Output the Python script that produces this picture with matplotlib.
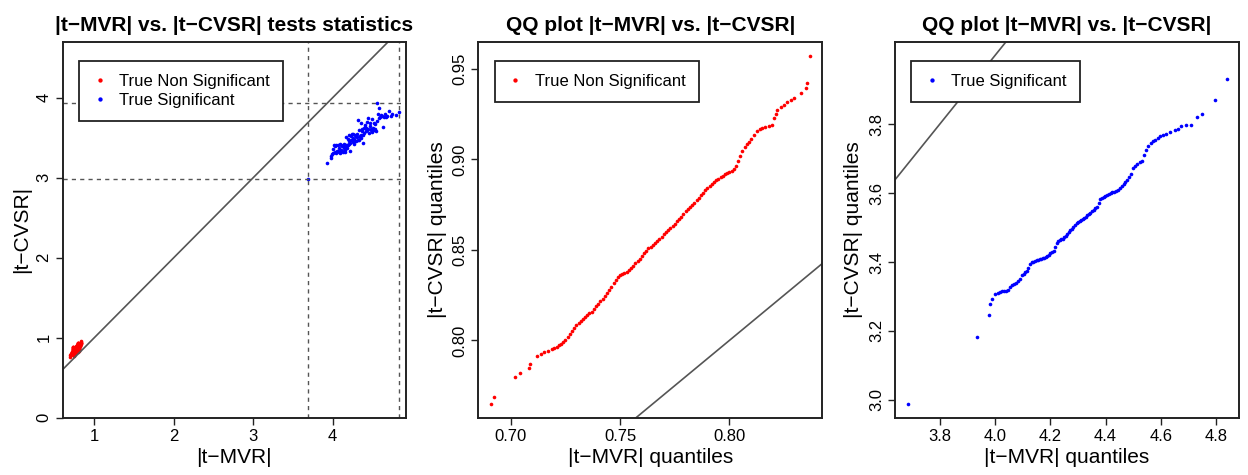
import numpy as np
import matplotlib
matplotlib.use("Agg")
import matplotlib.pyplot as plt

plt.rcParams['font.family'] = ['Liberation Sans', 'DejaVu Sans']

# |t-MVR| and |t-CVSR| statistics, truly non significant genes
red_mvr = [0.6910, 0.739, 0.6925, 0.740, 0.7020, 0.741, 0.7043, 0.742, 0.7085, 0.743,
           0.7090, 0.744, 0.7120, 0.745, 0.7140, 0.746, 0.7152, 0.747, 0.7170, 0.748,
           0.719, 0.749, 0.720, 0.750, 0.721, 0.751, 0.722, 0.752, 0.723, 0.753,
           0.724, 0.769, 0.754, 0.799, 0.725, 0.770, 0.755, 0.800,
           0.726, 0.771, 0.756, 0.801, 0.727, 0.772, 0.757, 0.802,
           0.728, 0.773, 0.758, 0.803, 0.729, 0.774, 0.759, 0.804,
           0.730, 0.775, 0.760, 0.805, 0.731, 0.776, 0.761, 0.806,
           0.732, 0.777, 0.762, 0.807, 0.733, 0.778, 0.763, 0.808,
           0.734, 0.779, 0.764, 0.809, 0.735, 0.780, 0.765, 0.810,
           0.736, 0.781, 0.766, 0.8115, 0.737, 0.782, 0.767, 0.8128,
           0.738, 0.783, 0.768, 0.8140,
           0.784, 0.8151, 0.785, 0.8165, 0.786, 0.8180, 0.787, 0.8197, 0.788, 0.8204,
           0.789, 0.8212, 0.790, 0.8220, 0.791, 0.8235, 0.792, 0.8250, 0.793, 0.8265,
           0.794, 0.8280, 0.795, 0.8296, 0.796, 0.8330, 0.797, 0.8350, 0.798, 0.8357,
           0.8367]
red_cvsr = [0.765, 0.769, 0.780, 0.7818, 0.785, 0.787, 0.7916, 0.7925, 0.7934, 0.7943,
            0.7952, 0.7959, 0.7966, 0.7974, 0.7981, 0.7993, 0.8005, 0.8020, 0.8037, 0.8053,
            0.8068, 0.8083, 0.8096, 0.8108, 0.8121, 0.8131, 0.8140, 0.8149, 0.8160, 0.8174,
            0.8188, 0.8202, 0.8216, 0.8231, 0.8246, 0.8262, 0.8279, 0.8297, 0.8315, 0.8332,
            0.8349, 0.8360, 0.8367, 0.8374, 0.8381, 0.8390, 0.8402, 0.8414, 0.8428, 0.8440,
            0.8452, 0.8466, 0.8481, 0.8496, 0.8509, 0.8519, 0.8529, 0.8540, 0.8550, 0.8562,
            0.8574, 0.8586, 0.8598, 0.8610, 0.8622, 0.8634, 0.8646, 0.8658, 0.8671, 0.8685,
            0.8699, 0.8713, 0.8726, 0.8738, 0.8750, 0.8762, 0.8774, 0.8788, 0.8803, 0.8817,
            0.8832, 0.8845, 0.8855, 0.8865, 0.8875, 0.8885, 0.8894, 0.8902, 0.8910, 0.8918,
            0.8926, 0.8932, 0.8938, 0.8945, 0.8966, 0.8990, 0.9017, 0.9045, 0.9069, 0.9084,
            0.9099, 0.9113, 0.9136, 0.9156, 0.9166, 0.9175, 0.9180, 0.9186, 0.9193, 0.9230,
            0.9250, 0.9276, 0.9290, 0.9303, 0.9315, 0.9328, 0.9340, 0.9370, 0.9395, 0.9423,
            0.9574]

# |t-MVR| and |t-CVSR| statistics, truly significant genes
blue_mvr = [3.685, 3.935, 3.979, 3.983, 3.989,
            4.002, 4.010, 4.018, 4.026, 4.033, 4.041, 4.048, 4.056, 4.063, 4.070,
            4.078, 4.085, 4.091, 4.098, 4.104, 4.110, 4.116, 4.121, 4.127, 4.133,
            4.139, 4.145, 4.151, 4.156, 4.162, 4.168, 4.173, 4.179, 4.185, 4.190,
            4.196, 4.201, 4.207, 4.212, 4.218, 4.223, 4.229, 4.234, 4.240, 4.245,
            4.251, 4.256, 4.262, 4.267, 4.273, 4.278, 4.284, 4.289, 4.295, 4.300,
            4.306, 4.311, 4.317, 4.322, 4.328, 4.334, 4.339, 4.345, 4.351, 4.357,
            4.363, 4.369, 4.375, 4.381, 4.387, 4.393, 4.399, 4.405, 4.412, 4.418,
            4.424, 4.431, 4.437, 4.444, 4.451, 4.458, 4.465, 4.472, 4.479, 4.486,
            4.493, 4.500, 4.507, 4.515, 4.523, 4.531, 4.539, 4.547, 4.555, 4.563,
            4.571, 4.580, 4.589, 4.598, 4.607, 4.617,
            4.632, 4.650, 4.662, 4.673, 4.690, 4.707, 4.731, 4.749, 4.795, 4.837]
blue_cvsr = [2.988, 3.183, 3.246, 3.277, 3.293,
             3.361, 3.308, 3.409, 3.320, 3.395, 3.313, 3.404, 3.338, 3.336, 3.412,
             3.316, 3.370, 3.418, 3.311, 3.352, 3.407, 3.328, 3.399, 3.401, 3.316,
             3.375, 3.416, 3.316, 3.345, 3.408, 3.513, 3.384, 3.406, 3.366, 3.411,
             3.487, 3.421, 3.536, 3.462, 3.334, 3.429, 3.523, 3.472, 3.468, 3.542,
             3.445, 3.497, 3.551, 3.425, 3.482, 3.529, 3.464, 3.517, 3.520, 3.456,
             3.503, 3.547, 3.726, 3.476, 3.601, 3.466, 3.508, 3.526, 3.492, 3.539,
             3.680, 3.589, 3.603, 3.532, 3.433, 3.616, 3.560, 3.639, 3.657, 3.582,
             3.626, 3.694, 3.596, 3.607, 3.746, 3.556, 3.646, 3.685, 3.592, 3.605,
             3.736, 3.571, 3.621, 3.690, 3.598, 3.610, 3.672, 3.585, 3.932, 3.711,
             3.798, 3.751, 3.870, 3.765, 3.783, 3.772,
             3.633, 3.761, 3.796, 3.755, 3.777, 3.831, 3.768, 3.799, 3.788, 3.822]

lab_nonsig = 'True Non Significant'
lab_sig = 'True Significant'

RED = '#ff0000'
BLUE = '#0000ff'
MS = 2.6


def style_axes(ax):
    for s in ax.spines.values():
        s.set_linewidth(1.4)
        s.set_color('#222222')
    ax.tick_params(direction='out', length=5, width=1, labelsize=12, pad=3,
                   color='#222222')
    ax.tick_params(axis='y', labelrotation=90)
    for lbl in ax.get_yticklabels():
        lbl.set_verticalalignment('center')


def add_legend(ax):
    leg = ax.legend(loc='upper left', bbox_to_anchor=(0.047, 0.95), borderaxespad=0,
                    fancybox=False, edgecolor='#222222', framealpha=1, fontsize=12,
                    handlelength=0.9, handletextpad=0.7, borderpad=0.8,
                    labelspacing=0.25, markerscale=1.2)
    leg.get_frame().set_linewidth(1.3)


fig = plt.figure(figsize=(12.48, 4.75), dpi=100)
ax1 = fig.add_axes([0.0502, 0.1206, 0.2751, 0.7916])
ax2 = fig.add_axes([0.3833, 0.1206, 0.2756, 0.7916])
ax3 = fig.add_axes([0.7171, 0.1206, 0.2759, 0.7916])

# scatter of the two statistics
ax1.plot(red_mvr, red_cvsr, 'o', color=RED, ms=MS, mew=0, label=lab_nonsig)
ax1.plot(blue_mvr, blue_cvsr, 'o', color=BLUE, ms=MS, mew=0, label=lab_sig)
ax1.axline((0, 0), slope=1, color='#555555', lw=1.2)
for v in (min(blue_mvr), max(blue_mvr)):
    ax1.axvline(v, color='#555555', lw=1, ls=(0, (3, 3)))
for h in (min(blue_cvsr), max(blue_cvsr)):
    ax1.axhline(h, color='#555555', lw=1, ls=(0, (3, 3)))
ax1.set_xlim(0.602, 4.923)
ax1.set_ylim(0, 4.70)
ax1.set_xticks([1, 2, 3, 4])
ax1.set_yticks([0, 1, 2, 3, 4])
ax1.set_title('|t\u2212MVR| vs. |t\u2212CVSR| tests statistics', fontsize=15,
              fontweight='bold', pad=8)
ax1.set_xlabel('|t\u2212MVR|', fontsize=15, labelpad=3)
ax1.set_ylabel('|t\u2212CVSR|', fontsize=15, labelpad=4)
style_axes(ax1)
add_legend(ax1)

# QQ plot, non significant
ax2.plot(np.sort(red_mvr), np.sort(red_cvsr), 'o', color=RED, ms=MS, mew=0,
         label=lab_nonsig)
ax2.margins(0.04)
ax2.axline((0.8, 0.8), slope=1, color='#555555', lw=1.2)
ax2.set_xticks([0.70, 0.75, 0.80])
ax2.set_xticklabels(['0.70', '0.75', '0.80'])
ax2.set_yticks([0.80, 0.85, 0.90, 0.95])
ax2.set_yticklabels(['0.80', '0.85', '0.90', '0.95'])
ax2.set_title('QQ plot |t\u2212MVR| vs. |t\u2212CVSR|', fontsize=15,
              fontweight='bold', pad=8)
ax2.set_xlabel('|t\u2212MVR| quantiles', fontsize=15, labelpad=3)
ax2.set_ylabel('|t\u2212CVSR| quantiles', fontsize=15, labelpad=4)
style_axes(ax2)
add_legend(ax2)

# QQ plot, significant
ax3.plot(np.sort(blue_mvr), np.sort(blue_cvsr), 'o', color=BLUE, ms=MS, mew=0,
         label=lab_sig)
ax3.margins(0.04)
ax3.axline((4, 4), slope=1, color='#555555', lw=1.2)
ax3.set_xticks([3.8, 4.0, 4.2, 4.4, 4.6, 4.8])
ax3.set_xticklabels(['3.8', '4.0', '4.2', '4.4', '4.6', '4.8'])
ax3.set_yticks([3.0, 3.2, 3.4, 3.6, 3.8])
ax3.set_yticklabels(['3.0', '3.2', '3.4', '3.6', '3.8'])
ax3.set_title('QQ plot |t\u2212MVR| vs. |t\u2212CVSR|', fontsize=15,
              fontweight='bold', pad=8)
ax3.set_xlabel('|t\u2212MVR| quantiles', fontsize=15, labelpad=3)
ax3.set_ylabel('|t\u2212CVSR| quantiles', fontsize=15, labelpad=4)
style_axes(ax3)
add_legend(ax3)

fig.savefig('out.png', dpi=100)
